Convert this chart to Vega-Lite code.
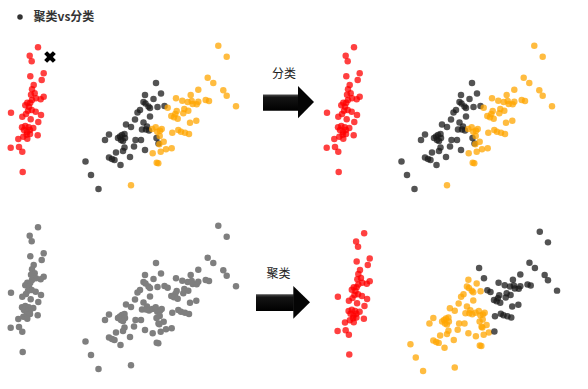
{
  "$schema": "https://vega.github.io/schema/vega-lite/v6.json",
  "width": 588,
  "height": 389,
  "autosize": {"type": "fit", "contains": "padding"},
  "padding": 0,
  "background": "white",
  "config": {"view": {"stroke": null}},
  "datasets": {
    "pts": [
      {"x":38,"y":47.3,"cls":"setosa","k":"setosa"},
      {"x":29.7,"y":55.7,"cls":"setosa","k":"setosa"},
      {"x":31.7,"y":61.3,"cls":"setosa","k":"setosa"},
      {"x":30.3,"y":76.3,"cls":"setosa","k":"setosa"},
      {"x":43.7,"y":73.3,"cls":"setosa","k":"setosa"},
      {"x":41.7,"y":80,"cls":"setosa","k":"setosa"},
      {"x":33.7,"y":85,"cls":"setosa","k":"setosa"},
      {"x":32,"y":89.3,"cls":"setosa","k":"setosa"},
      {"x":34.7,"y":93.3,"cls":"setosa","k":"setosa"},
      {"x":31,"y":94.7,"cls":"setosa","k":"setosa"},
      {"x":43.7,"y":96.7,"cls":"setosa","k":"setosa"},
      {"x":40.7,"y":99.3,"cls":"setosa","k":"setosa"},
      {"x":36,"y":98.3,"cls":"setosa","k":"setosa"},
      {"x":32,"y":100,"cls":"setosa","k":"setosa"},
      {"x":30.3,"y":102.7,"cls":"setosa","k":"setosa"},
      {"x":27.3,"y":102.7,"cls":"setosa","k":"setosa"},
      {"x":25.3,"y":105.3,"cls":"setosa","k":"setosa"},
      {"x":29,"y":106.7,"cls":"setosa","k":"setosa"},
      {"x":31.7,"y":110,"cls":"setosa","k":"setosa"},
      {"x":28,"y":110.7,"cls":"setosa","k":"setosa"},
      {"x":11,"y":112.7,"cls":"setosa","k":"setosa"},
      {"x":35.7,"y":111.7,"cls":"setosa","k":"setosa"},
      {"x":41,"y":115,"cls":"setosa","k":"setosa"},
      {"x":26,"y":114,"cls":"setosa","k":"setosa"},
      {"x":22.3,"y":116.7,"cls":"setosa","k":"setosa"},
      {"x":30.7,"y":119.3,"cls":"setosa","k":"setosa"},
      {"x":38.3,"y":122,"cls":"setosa","k":"setosa"},
      {"x":22,"y":127.3,"cls":"setosa","k":"setosa"},
      {"x":25.3,"y":126,"cls":"setosa","k":"setosa"},
      {"x":28.7,"y":127.3,"cls":"setosa","k":"setosa"},
      {"x":33.3,"y":128,"cls":"setosa","k":"setosa"},
      {"x":30,"y":130,"cls":"setosa","k":"setosa"},
      {"x":24,"y":130,"cls":"setosa","k":"setosa"},
      {"x":27,"y":132,"cls":"setosa","k":"setosa"},
      {"x":26.7,"y":134.7,"cls":"setosa","k":"setosa"},
      {"x":30,"y":134,"cls":"setosa","k":"setosa"},
      {"x":37.7,"y":135.3,"cls":"setosa","k":"setosa"},
      {"x":23.3,"y":136.7,"cls":"setosa","k":"setosa"},
      {"x":27.3,"y":138.7,"cls":"setosa","k":"setosa"},
      {"x":18.3,"y":139,"cls":"setosa","k":"setosa"},
      {"x":10.7,"y":147.7,"cls":"setosa","k":"setosa"},
      {"x":19,"y":147,"cls":"setosa","k":"setosa"},
      {"x":22.3,"y":151.7,"cls":"setosa","k":"setosa"},
      {"x":22.7,"y":172,"cls":"setosa","k":"setosa"},

      {"x":156,"y":83,"cls":"versicolor","k":"B"},
      {"x":145,"y":95,"cls":"versicolor","k":"A"},
      {"x":161,"y":93.5,"cls":"versicolor","k":"B"},
      {"x":153.5,"y":99,"cls":"versicolor","k":"A"},
      {"x":143.5,"y":102,"cls":"versicolor","k":"A"},
      {"x":145.5,"y":103.5,"cls":"versicolor","k":"A"},
      {"x":148.5,"y":106.5,"cls":"versicolor","k":"A"},
      {"x":150,"y":108,"cls":"versicolor","k":"A"},
      {"x":157.5,"y":107,"cls":"versicolor","k":"A"},
      {"x":164.5,"y":106,"cls":"versicolor","k":"B"},
      {"x":140,"y":110,"cls":"versicolor","k":"A"},
      {"x":137.5,"y":112.5,"cls":"versicolor","k":"A"},
      {"x":150,"y":116.5,"cls":"versicolor","k":"A"},
      {"x":135,"y":119.5,"cls":"versicolor","k":"A"},
      {"x":143.5,"y":122.5,"cls":"versicolor","k":"A"},
      {"x":147,"y":126.5,"cls":"versicolor","k":"A"},
      {"x":142,"y":129.5,"cls":"versicolor","k":"A"},
      {"x":146,"y":129.5,"cls":"versicolor","k":"A"},
      {"x":149,"y":130.5,"cls":"versicolor","k":"A"},
      {"x":126,"y":124.5,"cls":"versicolor","k":"A"},
      {"x":131,"y":127,"cls":"versicolor","k":"A"},
      {"x":109,"y":134.5,"cls":"versicolor","k":"A"},
      {"x":105,"y":140,"cls":"versicolor","k":"A"},
      {"x":120,"y":136.5,"cls":"versicolor","k":"A"},
      {"x":122,"y":135,"cls":"versicolor","k":"A"},
      {"x":124.5,"y":134,"cls":"versicolor","k":"A"},
      {"x":125,"y":138,"cls":"versicolor","k":"A"},
      {"x":121,"y":140,"cls":"versicolor","k":"A"},
      {"x":135.5,"y":140,"cls":"versicolor","k":"A"},
      {"x":141,"y":140,"cls":"versicolor","k":"A"},
      {"x":134,"y":146.5,"cls":"versicolor","k":"A"},
      {"x":124.5,"y":147.5,"cls":"versicolor","k":"A"},
      {"x":156.5,"y":138,"cls":"versicolor","k":"A"},
      {"x":158.5,"y":143.5,"cls":"versicolor","k":"A"},
      {"x":145,"y":150,"cls":"versicolor","k":"A"},
      {"x":116,"y":152.5,"cls":"versicolor","k":"A"},
      {"x":130,"y":157,"cls":"versicolor","k":"A"},
      {"x":109,"y":157.5,"cls":"versicolor","k":"A"},
      {"x":112,"y":159,"cls":"versicolor","k":"A"},
      {"x":114.5,"y":160,"cls":"versicolor","k":"A"},
      {"x":120.5,"y":165,"cls":"versicolor","k":"A"},
      {"x":85.5,"y":161.5,"cls":"versicolor","k":"A"},
      {"x":91,"y":175,"cls":"versicolor","k":"A"},
      {"x":98.5,"y":189,"cls":"versicolor","k":"A"},
      {"x":123,"y":151,"cls":"versicolor","k":"A"},
      {"x":118,"y":138,"cls":"versicolor","k":"A"},
      {"x":123,"y":141,"cls":"versicolor","k":"A"},

      {"x":218.3,"y":45.7,"cls":"virginica","k":"B"},
      {"x":226.7,"y":56.7,"cls":"virginica","k":"B"},
      {"x":207.7,"y":77.7,"cls":"virginica","k":"B"},
      {"x":213.3,"y":83,"cls":"virginica","k":"B"},
      {"x":198.3,"y":89.7,"cls":"virginica","k":"B"},
      {"x":223.3,"y":90.3,"cls":"virginica","k":"B"},
      {"x":226.7,"y":95.7,"cls":"virginica","k":"B"},
      {"x":236,"y":106.3,"cls":"virginica","k":"B"},
      {"x":190.7,"y":95,"cls":"virginica","k":"B"},
      {"x":176,"y":98.3,"cls":"virginica","k":"B"},
      {"x":182.3,"y":100.7,"cls":"virginica","k":"B"},
      {"x":187.7,"y":102,"cls":"virginica","k":"B"},
      {"x":191.7,"y":101,"cls":"virginica","k":"B"},
      {"x":192.7,"y":104,"cls":"virginica","k":"B"},
      {"x":196.7,"y":104.3,"cls":"virginica","k":"B"},
      {"x":198.3,"y":101.7,"cls":"virginica","k":"B"},
      {"x":205.7,"y":100,"cls":"virginica","k":"B"},
      {"x":209,"y":101,"cls":"virginica","k":"B"},
      {"x":167.7,"y":107.7,"cls":"virginica","k":"B"},
      {"x":171.3,"y":116,"cls":"virginica","k":"B"},
      {"x":175.3,"y":114,"cls":"virginica","k":"B"},
      {"x":176.7,"y":111,"cls":"virginica","k":"B"},
      {"x":174,"y":117.3,"cls":"virginica","k":"B"},
      {"x":177.7,"y":118.7,"cls":"virginica","k":"B"},
      {"x":183.3,"y":113.3,"cls":"virginica","k":"B"},
      {"x":184.3,"y":109,"cls":"virginica","k":"B"},
      {"x":188.3,"y":110.7,"cls":"virginica","k":"B"},
      {"x":196.3,"y":120.7,"cls":"virginica","k":"B"},
      {"x":190,"y":122.7,"cls":"virginica","k":"B"},
      {"x":152.3,"y":129,"cls":"virginica","k":"A"},
      {"x":155.7,"y":127.3,"cls":"virginica","k":"A"},
      {"x":157.3,"y":131.7,"cls":"virginica","k":"A"},
      {"x":160,"y":130.7,"cls":"virginica","k":"A"},
      {"x":159.7,"y":136,"cls":"virginica","k":"A"},
      {"x":161.7,"y":129,"cls":"virginica","k":"A"},
      {"x":172.3,"y":132.7,"cls":"virginica","k":"B"},
      {"x":178.3,"y":130,"cls":"virginica","k":"B"},
      {"x":181,"y":131.7,"cls":"virginica","k":"B"},
      {"x":185,"y":132.7,"cls":"virginica","k":"B"},
      {"x":189,"y":134,"cls":"virginica","k":"B"},
      {"x":163.7,"y":141.7,"cls":"virginica","k":"A"},
      {"x":159.3,"y":144.3,"cls":"virginica","k":"A"},
      {"x":152.7,"y":153.3,"cls":"virginica","k":"A"},
      {"x":160.7,"y":151.7,"cls":"virginica","k":"A"},
      {"x":166,"y":149.3,"cls":"virginica","k":"A"},
      {"x":171.7,"y":148.3,"cls":"virginica","k":"B"},
      {"x":156.7,"y":162.7,"cls":"virginica","k":"A"},
      {"x":158.3,"y":163.3,"cls":"virginica","k":"A"},
      {"x":131,"y":185.3,"cls":"virginica","k":"A"}
    ],
    "bodies": [
      {"arrow":"top","x":263,"x2":298.5,"y":94.5,"y2":110.7},
      {"arrow":"bottom","x":256,"x2":293.8,"y":294.3,"y2":311}
    ],
    "heads": [
      {"arrow":"top","o":1,"x":298,"y":86,"y2":118.3},
      {"arrow":"top","o":2,"x":314,"y":102,"y2":102},
      {"arrow":"bottom","o":1,"x":293.3,"y":286,"y2":318.7},
      {"arrow":"bottom","o":2,"x":310,"y":302.3,"y2":302.3}
    ],
    "labels": [
      {"x":284,"y":74,"label":"分类"},
      {"x":278.5,"y":274,"label":"聚类"}
    ]
  },
  "resolve": {"scale": {"x": "independent", "y": "independent", "color": "independent"}},
  "layer": [
    {
      "data": {"name": "pts"},
      "mark": {"type": "circle", "size": 42, "opacity": 0.75},
      "encoding": {
        "x": {"field": "x", "type": "quantitative", "axis": null, "scale": {"domain": [0, 588], "nice": false, "zero": false}},
        "y": {"field": "y", "type": "quantitative", "axis": null, "scale": {"domain": [0, 389], "reverse": true, "nice": false, "zero": false}},
        "color": {"field": "cls", "type": "nominal", "legend": null, "scale": {"domain": ["setosa", "versicolor", "virginica"], "range": ["#ff0000", "#1a1a1a", "#ffa500"]}}
      }
    },
    {
      "data": {"name": "pts"},
      "mark": {"type": "circle", "size": 42, "opacity": 0.75},
      "encoding": {
        "x": {"field": "x", "type": "quantitative", "axis": null, "scale": {"domain": [-316, 272], "nice": false, "zero": false}},
        "y": {"field": "y", "type": "quantitative", "axis": null, "scale": {"domain": [0, 389], "reverse": true, "nice": false, "zero": false}},
        "color": {"field": "cls", "type": "nominal", "legend": null, "scale": {"domain": ["setosa", "versicolor", "virginica"], "range": ["#ff0000", "#1a1a1a", "#ffa500"]}}
      }
    },
    {
      "data": {"name": "pts"},
      "mark": {"type": "circle", "size": 42, "opacity": 1, "color": "#7f7f7f"},
      "encoding": {
        "x": {"field": "x", "type": "quantitative", "axis": null, "scale": {"domain": [0, 588], "nice": false, "zero": false}},
        "y": {"field": "y", "type": "quantitative", "axis": null, "scale": {"domain": [-180, 209], "reverse": true, "nice": false, "zero": false}}
      }
    },
    {
      "data": {"name": "pts"},
      "mark": {"type": "circle", "size": 42, "opacity": 0.75},
      "encoding": {
        "x": {"field": "x", "type": "quantitative", "axis": null, "scale": {"domain": [-335.9, 267.8], "nice": false, "zero": false}},
        "y": {"field": "y", "type": "quantitative", "axis": null, "scale": {"domain": [-192.4, 207.4], "reverse": true, "nice": false, "zero": false}},
        "color": {"field": "k", "type": "nominal", "legend": null, "scale": {"domain": ["setosa", "A", "B"], "range": ["#ff0000", "#ffa500", "#1a1a1a"]}}
      }
    },
    {
      "data": {"values": [{"x": 50, "y": 57}]},
      "mark": {"type": "point", "filled": true, "color": "#000000", "opacity": 1, "size": 135,
        "shape": "M-1,-0.5L-0.5,-1L0,-0.5L0.5,-1L1,-0.5L0.5,0L1,0.5L0.5,1L0,0.5L-0.5,1L-1,0.5L-0.5,0Z"},
      "encoding": {
        "x": {"field": "x", "type": "quantitative", "axis": null, "scale": {"domain": [0, 588], "nice": false, "zero": false}},
        "y": {"field": "y", "type": "quantitative", "axis": null, "scale": {"domain": [0, 389], "reverse": true, "nice": false, "zero": false}}
      }
    },
    {
      "data": {"name": "bodies"},
      "mark": {"type": "rect", "opacity": 1,
        "fill": {"gradient": "linear", "x1": 0, "y1": 0, "x2": 0, "y2": 1,
          "stops": [{"offset": 0, "color": "#4a4a4a"}, {"offset": 0.18, "color": "#141414"}, {"offset": 1, "color": "#000000"}]}},
      "encoding": {
        "x": {"field": "x", "type": "quantitative", "axis": null, "scale": {"domain": [0, 588], "nice": false, "zero": false}},
        "x2": {"field": "x2"},
        "y": {"field": "y", "type": "quantitative", "axis": null, "scale": {"domain": [0, 389], "reverse": true, "nice": false, "zero": false}},
        "y2": {"field": "y2"}
      }
    },
    {
      "data": {"name": "heads"},
      "mark": {"type": "area", "interpolate": "linear", "opacity": 1, "fill": "#050505", "orient": "vertical"},
      "encoding": {
        "x": {"field": "x", "type": "quantitative", "axis": null, "scale": {"domain": [0, 588], "nice": false, "zero": false}},
        "y": {"field": "y", "type": "quantitative", "axis": null, "scale": {"domain": [0, 389], "reverse": true, "nice": false, "zero": false}},
        "y2": {"field": "y2"},
        "detail": {"field": "arrow", "type": "nominal"}
      }
    },
    {
      "data": {"name": "labels"},
      "mark": {"type": "text", "font": "Noto Sans CJK SC", "fontSize": 12, "color": "#222222", "align": "center", "baseline": "middle"},
      "encoding": {
        "x": {"field": "x", "type": "quantitative", "axis": null, "scale": {"domain": [0, 588], "nice": false, "zero": false}},
        "y": {"field": "y", "type": "quantitative", "axis": null, "scale": {"domain": [0, 389], "reverse": true, "nice": false, "zero": false}},
        "text": {"field": "label"}
      }
    },
    {
      "data": {"values": [{"x": 20, "y": 17}]},
      "mark": {"type": "circle", "size": 30, "color": "#333333", "opacity": 1},
      "encoding": {
        "x": {"field": "x", "type": "quantitative", "axis": null, "scale": {"domain": [0, 588], "nice": false, "zero": false}},
        "y": {"field": "y", "type": "quantitative", "axis": null, "scale": {"domain": [0, 389], "reverse": true, "nice": false, "zero": false}}
      }
    },
    {
      "data": {"values": [{"x": 33.5, "y": 17, "label": "聚类vs分类"}]},
      "mark": {"type": "text", "font": "Noto Sans CJK SC", "fontSize": 12, "fontWeight": "bold", "color": "#333333", "align": "left", "baseline": "middle"},
      "encoding": {
        "x": {"field": "x", "type": "quantitative", "axis": null, "scale": {"domain": [0, 588], "nice": false, "zero": false}},
        "y": {"field": "y", "type": "quantitative", "axis": null, "scale": {"domain": [0, 389], "reverse": true, "nice": false, "zero": false}},
        "text": {"field": "label"}
      }
    }
  ]
}
